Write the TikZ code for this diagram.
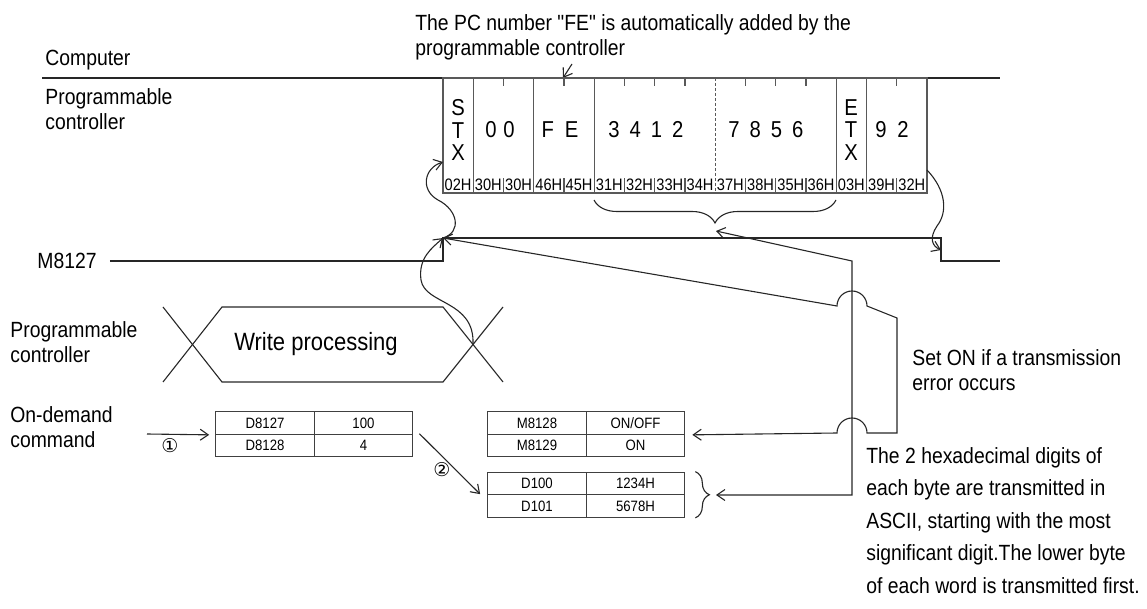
\documentclass[tikz,border=0pt]{standalone}
\usepackage{fontspec}
\setmainfont{Liberation Sans}[FakeStretch=0.88]
\newfontfamily\plainfont{Liberation Sans}[FakeStretch=0.88]
\newfontfamily\circfont{DejaVu Sans}
\newcommand{\straightquote}{{\plainfont\symbol{34}}}
\usetikzlibrary{arrows.meta,decorations.pathreplacing}

\begin{document}
\begin{tikzpicture}[
    x=0.5pt, y=-0.5pt,
    wire/.style={line width=0.55pt, black!85},
    frameline/.style={line width=0.6pt, black!65},
    lbl/.style={font=\fontsize{11}{12.5}\selectfont, inner sep=0pt, align=left},
    note/.style={font=\fontsize{11}{16.25}\selectfont, inner sep=0pt, align=left},
    big/.style={font=\fontsize{11.5}{11.25}\selectfont, inner sep=0pt, align=center},
    hex/.style={font=\fontsize{8.3}{9}\selectfont, inner sep=0pt},
    cell/.style={draw=black!75, line width=0.6pt, minimum width=49.25pt, minimum height=11.25pt, inner sep=0pt, font=\fontsize{7.5}{8}\selectfont},
    circ/.style={font=\circfont\fontsize{9.5}{10}\selectfont, inner sep=0pt},
    tip/.style={-{Straight Barb[length=4pt,width=5.5pt]}},
    both/.style={{Straight Barb[length=4pt,width=5.5pt]}-{Straight Barb[length=4pt,width=5.5pt]}}
]
\useasboundingbox (0,0) rectangle (1147,609);

% Title note and line labels
\node[lbl, anchor=north west] (fenote) at (415,14) {The PC number \straightquote FE\straightquote\ is automatically added by the\\programmable controller};
\node[lbl, anchor=base west] (computer) at (45,66) {Computer};
\node[lbl, anchor=north west] (plc1) at (45,88) {Programmable\\controller};
\node[lbl, anchor=north west] (plc2) at (10,321) {Programmable\\controller};
\node[lbl, anchor=north west] (ondemand) at (10,406) {On-demand\\command};
\node[lbl, anchor=west] (m8127) at (37,261) {M8127};

% Computer / PLC separation
\draw[wire] (42,78) -- (1000,78);
\coordinate (fetail) at (572,64);
\coordinate (fetick) at (563,78);
\draw[wire, tip] (fetail) -- (fetick);

% Transmitted frame
\draw[frameline] (443,78) rectangle (927,193);
\foreach \k in {1,3,5,13,14}
  \draw[frameline] ({443+30.25*\k},78) -- ++(0,115);
\draw[frameline, dash pattern=on 1.5pt off 1pt] ({443+30.25*9},78) -- ++(0,115);
\foreach \k in {2,4,6,7,8,10,11,12,15} {
  \draw[frameline] ({443+30.25*\k},78) -- ++(0,8);
  \draw[frameline] ({443+30.25*\k},193) -- ++(0,-15);
}
\foreach \h [count=\i from 0] in {02H,30H,30H,46H,45H,31H,32H,33H,34H,37H,38H,35H,36H,03H,39H,32H}
  \node[hex] (hex\i) at ({443+30.25*(\i+0.5)},185) {\h};

\node[big] (stx) at (458,130) {S\\T\\X};
\node[big] (pc00) at (500,130) {0\hspace{3.4pt}0};
\node[big] (pcfe) at (560,130) {F\hspace{5.5pt}E};
\node[big] (d3412) at (646,130) {3\hspace{5pt}4\hspace{5pt}1\hspace{5pt}2};
\node[big] (d7856) at (766,130) {7\hspace{5pt}8\hspace{5pt}5\hspace{5pt}6};
\node[big] (etx) at (851,130) {E\\T\\X};
\node[big] (sum92) at (892,130) {9\hspace{5.3pt}2};

\draw[wire, decorate, decoration={brace, mirror, amplitude=11.5pt}] (594,200) -- (836,200);

% M8127 signal
\coordinate (low1) at (443,261);
\coordinate (rise) at (443,238);
\coordinate (high2) at (941,238);
\coordinate (low2) at (941,261);
\coordinate (sigend) at (1000,261);
\draw[wire] ([xshift=6.5pt]m8127.east) -- (low1) -- (rise) -- (high2) -- (low2) -- (sigend);

% Write processing
\draw[wire] (163,307) -- (222,382) -- (443,382) -- (503,307);
\draw[wire] (163,382) -- (222,307) -- (443,307) -- (503,382);
\node[font=\fontsize{12.5}{14}\selectfont, inner sep=0pt] (wproc) at (316,344) {Write processing};
\coordinate (xcross) at (473,344.5);

% Wavy timing arrows
\coordinate (stxin) at (443,162);
\coordinate (box92) at (927,170);
\coordinate (fall) at (941,250);
\draw[wire, tip] (xcross) .. controls (475,300) and (425,305) .. (421,280) .. controls (418,258) and (432,248) .. (rise);
\draw[wire, tip] (rise) .. controls (462,232) and (458,210) .. (438,200) .. controls (420,190) and (424,168) .. (stxin);
\draw[wire, tip] (box92) .. controls (946,190) and (948,212) .. (937,226) .. controls (929,238) and (932,246) .. (fall);

% Tables
\node[cell] (d8127) at (265,423) {D8127};
\node[cell] (v100) at (363.5,423) {100};
\node[cell] (d8128) at (265,445.5) {D8128};
\node[cell] (v4) at (363.5,445.5) {4};
\node[cell] (m8128) at (537,423) {M8128};
\node[cell] (onoff) at (635.5,423) {ON/OFF};
\node[cell] (m8129) at (537,445.5) {M8129};
\node[cell] (on) at (635.5,445.5) {ON};
\node[cell] (d100) at (537,483.5) {D100};
\node[cell] (v1234) at (635.5,483.5) {1234H};
\node[cell] (d101) at (537,506) {D101};
\node[cell] (v5678) at (635.5,506) {5678H};

% Steps
\coordinate (cmdin) at (147,434);
\draw[wire, tip] (cmdin) -- ([xshift=-3pt]d8127.south west);
\node[circ] (one) at (170,446) {①};
\draw[wire, tip] ([xshift=3pt]v4.north east) -- ([xshift=-3.5pt]d101.north west);
\node[circ] (two) at (442,470) {②};

% Error flag and data links
\draw[wire, both] (rise) -- (837,306) arc[start angle=180, end angle=0, radius=7.5pt] -- (897,318) -- (897,433) -- (867,433) arc[start angle=0, end angle=180, radius=7.5pt] -- ([xshift=3.5pt]onoff.south east);
\draw[wire, decorate, decoration={brace, amplitude=7pt}] ([xshift=5pt]v1234.north east) -- ([xshift=5pt]v5678.south east);
\coordinate (bracetip) at (716,231);
\coordinate (datatip) at (716,495);
\draw[wire, both] (bracetip) -- (852,261) -- (852,495) -- (datatip);

% Notes
\node[lbl, anchor=north west] (seton) at (912,349) {Set ON if a transmission\\error occurs};
\node[note, anchor=north west] (hexnote) at (866,447) {The 2 hexadecimal digits of\\each byte are transmitted in\\ASCII, starting with the most\\significant digit.The lower byte\\of each word is transmitted first.};

\end{tikzpicture}
\end{document}
